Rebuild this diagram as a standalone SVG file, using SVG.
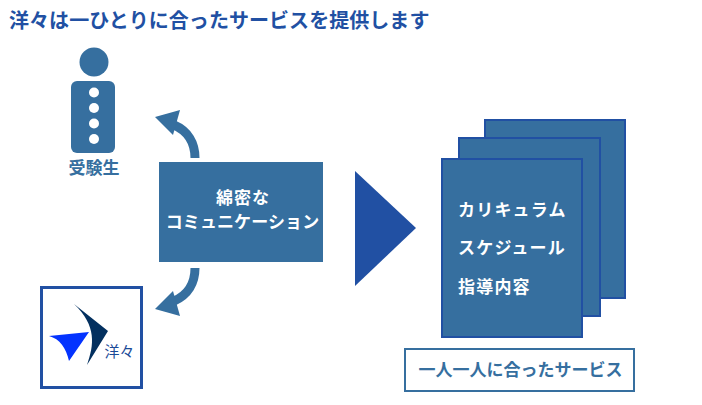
<svg xmlns="http://www.w3.org/2000/svg" width="702" height="405" viewBox="0 0 702 405">
<style>
text{font-family:"Noto Sans CJK JP","Noto Sans",sans-serif;font-weight:700}
.w{fill:#fff;font-size:17px}
.b{fill:#366f9f}
.sheet{fill:#366f9f;stroke:#2150a3;stroke-width:2}
</style>
<rect width="702" height="405" fill="#fff"/>
<text id="title" x="9" y="28" font-size="20" letter-spacing="0.05" fill="#2150a3">洋々は一ひとりに合ったサービスを提供します</text>
<g id="student">
<circle class="b" cx="94" cy="62" r="14.500"/>
<rect class="b" x="71" y="81" width="44" height="72" rx="6"/>
<g fill="#fff"><circle cx="94" cy="92.500" r="5"/><circle cx="94" cy="108" r="5"/><circle cx="94" cy="123.500" r="5"/><circle cx="94" cy="139" r="5"/></g>
<text x="94" y="174" font-size="17" text-anchor="middle" class="b">受験生</text>
</g>
<g id="communication">
<rect class="b" x="159" y="162" width="164" height="100"/>
<text class="w" x="243" y="204" text-anchor="middle" letter-spacing="1">綿密な</text>
<text class="w" x="242.500" y="228" text-anchor="middle" letter-spacing="0.100">コミュニケーション</text>
</g>
<g id="connectors">
<path d="M195 158C195 143 188 131 174 125" fill="none" stroke="#366f9f" stroke-width="9"/>
<path d="M155 117L180 110L173 135Z" class="b"/>
<path d="M195 268C195 283 188 295 174 301" fill="none" stroke="#366f9f" stroke-width="9"/>
<path d="M155 309L180 316L173 291Z" class="b"/>
</g>
<g id="logo">
<rect x="41.500" y="287.500" width="100" height="100" fill="#fff" stroke="#2150a3" stroke-width="3"/>
<path d="M74 304L108 331L87 365C94 345 97 326 74 304Z" fill="#03305f"/>
<path d="M49 336L89 332L69 361C66 348 60 339 49 336Z" fill="#0433ff"/>
<text x="119.500" y="357" font-size="15" text-anchor="middle" fill="#1b4a97" style="font-weight:400">洋々</text>
</g>
<path id="bigarrow" d="M355 171L416 228L355 286Z" fill="#2150a3"/>
<g id="sheets">
<rect class="sheet" x="485" y="120" width="140" height="178"/>
<rect class="sheet" x="459" y="138" width="141" height="178"/>
<rect class="sheet" x="442" y="159" width="140" height="178"/>
<text class="w" x="458" y="216" letter-spacing="1.200">カリキュラム</text>
<text class="w" x="458" y="254" letter-spacing="1.200">スケジュール</text>
<text class="w" x="458" y="293" letter-spacing="1.200">指導内容</text>
</g>
<g id="caption">
<rect x="405" y="349" width="229" height="42" fill="#fff" stroke="#366f9f" stroke-width="2"/>
<text x="520.500" y="376" font-size="17" text-anchor="middle" class="b">一人一人に合ったサービス</text>
</g>
</svg>
